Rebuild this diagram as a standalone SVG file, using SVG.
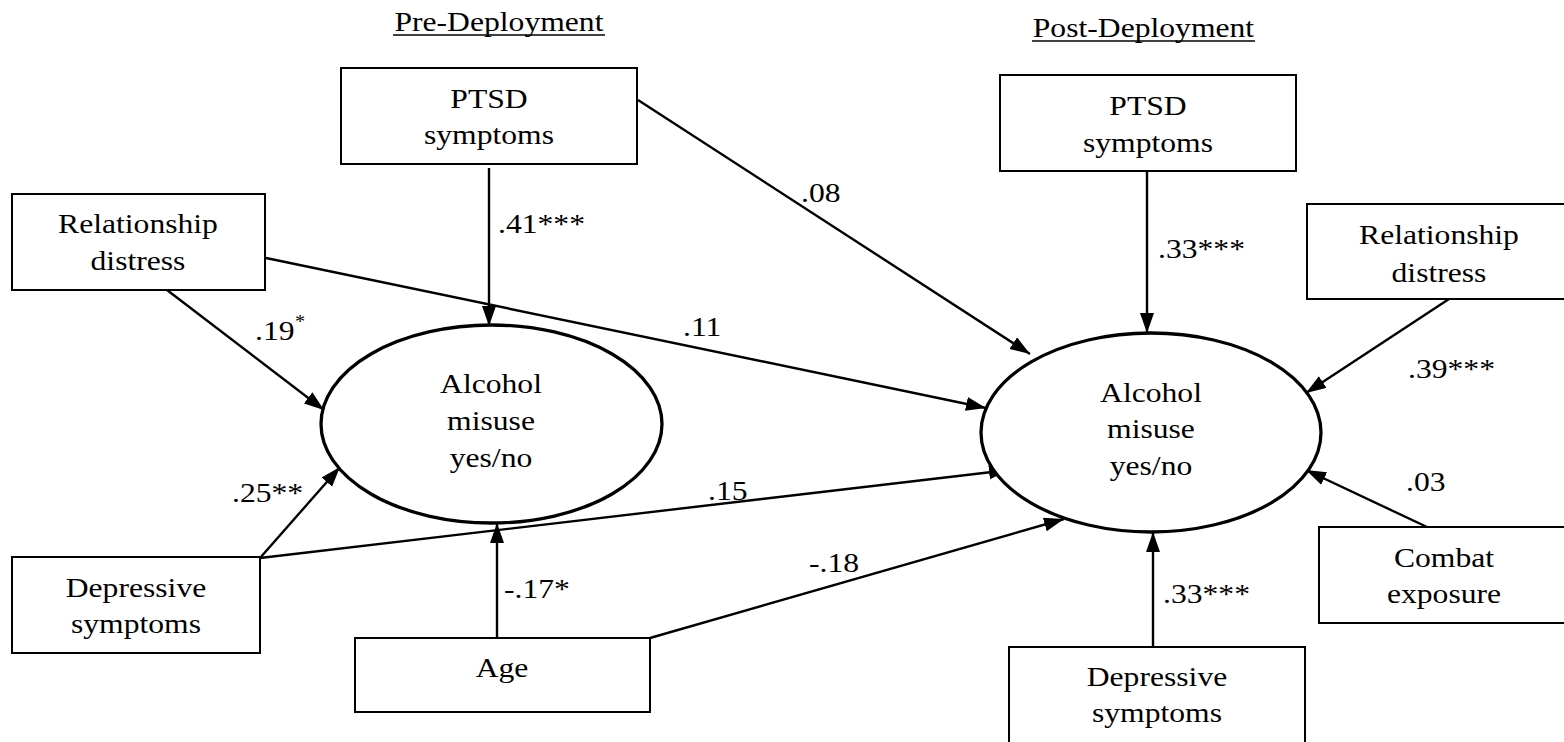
<svg xmlns="http://www.w3.org/2000/svg" width="1564" height="742" viewBox="0 0 1564 742">
<style>
text { font-family: "Liberation Serif", "Times New Roman", serif; font-size: 28px; fill: #000; transform-box: fill-box; transform: scaleX(1.13); }
.c { text-anchor: middle; transform-origin: center; }
.l { text-anchor: start; transform-origin: left center; }
.sup { font-size: 18px; }
.box { fill: #fff; stroke: #000; stroke-width: 2; }
.ell { fill: #fff; stroke: #000; stroke-width: 3.3; }
.con line { stroke: #000; stroke-width: 2.4; fill: none; }
.arr { marker-end: url(#ah); }
.ul { stroke: #000; stroke-width: 1.6; }
</style>
<defs>
<marker id="ah" markerUnits="userSpaceOnUse" markerWidth="22" markerHeight="16" refX="20" refY="7" orient="auto">
<path d="M0,0 L20,7 L0,14 Z" fill="#000"/>
</marker>
</defs>
<rect width="1564" height="742" fill="#fff"/>

<g id="titles">
<text class="c" x="499" y="31">Pre-Deployment</text>
<line class="ul" x1="393" y1="35" x2="605" y2="35"/>
<text class="c" x="1143.5" y="37">Post-Deployment</text>
<line class="ul" x1="1032" y1="41" x2="1255" y2="41"/>
</g>

<g id="connectors" class="con">
<line class="arr" x1="489" y1="168" x2="489" y2="326"/>
<line class="arr" x1="167" y1="290" x2="324" y2="410"/>
<line class="arr" x1="260" y1="558" x2="340" y2="467"/>
<line class="arr" x1="497" y1="638" x2="497" y2="523"/>
<line class="arr" x1="638" y1="100" x2="1030" y2="354"/>
<line class="arr" x1="266" y1="258" x2="986" y2="408"/>
<line class="arr" x1="260" y1="558" x2="1009" y2="470"/>
<line class="arr" x1="650" y1="638" x2="1064" y2="519"/>
<line class="arr" x1="1147" y1="171" x2="1147" y2="333"/>
<line class="arr" x1="1449" y1="299" x2="1306" y2="393"/>
<line class="arr" x1="1427" y1="527" x2="1306" y2="470"/>
<line class="arr" x1="1153" y1="647" x2="1153" y2="532"/>
</g>

<g id="pre_ptsd">
<rect class="box" x="341" y="68" width="296" height="96"/>
<text class="c" x="489" y="108">PTSD</text>
<text class="c" x="489" y="144">symptoms</text>
</g>
<g id="pre_rel">
<rect class="box" x="12" y="194" width="253" height="96"/>
<text class="c" x="138" y="233">Relationship</text>
<text class="c" x="138" y="270">distress</text>
</g>
<g id="pre_alcohol">
<ellipse class="ell" cx="491.5" cy="424" rx="170.5" ry="99"/>
<text class="c" x="491" y="393">Alcohol</text>
<text class="c" x="491" y="430">misuse</text>
<text class="c" x="491" y="467">yes/no</text>
</g>
<g id="pre_dep">
<rect class="box" x="12" y="557" width="248" height="96"/>
<text class="c" x="136" y="597">Depressive</text>
<text class="c" x="136" y="633">symptoms</text>
</g>
<g id="pre_age">
<rect class="box" x="355" y="638" width="295" height="74"/>
<text class="c" x="502" y="677">Age</text>
</g>
<g id="post_ptsd">
<rect class="box" x="1000" y="75" width="296" height="96"/>
<text class="c" x="1148" y="115">PTSD</text>
<text class="c" x="1148" y="152">symptoms</text>
</g>
<g id="post_rel">
<rect class="box" x="1307" y="204" width="300" height="95"/>
<text class="c" x="1439" y="244">Relationship</text>
<text class="c" x="1439" y="282">distress</text>
</g>
<g id="post_alcohol">
<ellipse class="ell" cx="1151" cy="432.5" rx="170" ry="99.5"/>
<text class="c" x="1151" y="402">Alcohol</text>
<text class="c" x="1151" y="438">misuse</text>
<text class="c" x="1151" y="475">yes/no</text>
</g>
<g id="post_combat">
<rect class="box" x="1319" y="527" width="300" height="96"/>
<text class="c" x="1444" y="567">Combat</text>
<text class="c" x="1444" y="603">exposure</text>
</g>
<g id="post_dep">
<rect class="box" x="1009" y="647" width="296" height="120"/>
<text class="c" x="1157" y="686">Depressive</text>
<text class="c" x="1157" y="722">symptoms</text>
</g>

<g id="labels">
<text class="l" x="498" y="233">.41***</text>
<text class="l" x="255" y="340">.19</text>
<text class="l sup" x="295" y="328">*</text>
<text class="l" x="232" y="502">.25**</text>
<text class="l" x="504" y="598">-.17*</text>
<text class="l" x="801" y="202">.08</text>
<text class="l" x="683" y="336">.11</text>
<text class="l" x="708" y="500">.15</text>
<text class="l" x="809" y="572">-.18</text>
<text class="l" x="1158" y="258">.33***</text>
<text class="l" x="1408" y="378">.39***</text>
<text class="l" x="1406" y="491">.03</text>
<text class="l" x="1163" y="603">.33***</text>
</g>
</svg>
